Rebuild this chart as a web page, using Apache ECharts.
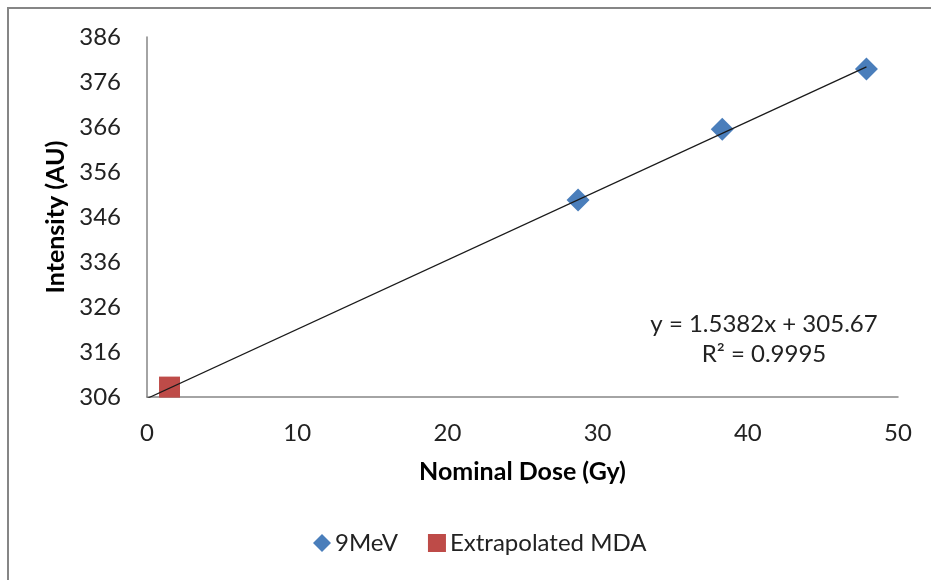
<!DOCTYPE html>
<html>
<head>
<meta charset="utf-8">
<script src="https://cdn.jsdelivr.net/npm/echarts@6/dist/echarts.min.js"></script>
<style>
  html, body { margin: 0; padding: 0; background: #fff; }
  #chart { width: 931px; height: 580px; }
</style>
</head>
<body>
<div id="chart"></div>
<script>
// Measured intensities at each nominal dose
const doseMeV = [28.7, 38.3, 47.9];
const intensityMeV = [349.8, 365.5, 378.9];
// Minimum detectable activity, extrapolated from the fit
const doseMDA = [1.5];
const intensityMDA = [308.2];
// Linear fit as reported by the equation label
const fitSlope = 1.5382;
const fitIntercept = 305.67;
const fitRange = [0, 47.9];
const fitText = ['y = 1.5382x + 305.67', 'R\u00b2 = 0.9995'];

const FONT = 'Lato, "Open Sans", sans-serif';

const chart = echarts.init(document.getElementById('chart'), null, { renderer: 'canvas' });

const fitLine = fitRange.map(x => [x, fitSlope * x + fitIntercept]);

chart.setOption({
  backgroundColor: '#fff',
  animation: false,
  textStyle: { fontFamily: FONT },
  grid: { left: 147, right: 33, top: 37, bottom: 183, containLabel: false },
  xAxis: {
    type: 'value',
    min: 0, max: 50, interval: 10,
    name: 'Nominal Dose (Gy)',
    nameLocation: 'middle',
    nameGap: 62,
    nameTextStyle: { fontFamily: FONT, fontSize: 25, fontWeight: 'bold', color: '#000' },
    axisLine: { show: true, lineStyle: { color: '#868686', width: 1.5 } },
    axisTick: { show: false },
    splitLine: { show: false },
    axisLabel: { fontFamily: FONT, fontSize: 24, color: '#222', margin: 24 }
  },
  yAxis: {
    type: 'value',
    min: 306, max: 386, interval: 10,
    name: 'Intensity (AU)',
    nameLocation: 'middle',
    nameGap: 70,
    nameTextStyle: { fontFamily: FONT, fontSize: 25, fontWeight: 'bold', color: '#000' },
    axisLine: { show: true, onZero: false, lineStyle: { color: '#868686', width: 1.5 } },
    axisTick: { show: false },
    splitLine: { show: false },
    axisLabel: { fontFamily: FONT, fontSize: 24, color: '#222', margin: 26 }
  },
  legend: {
    bottom: 20,
    left: 308,
    itemGap: 30,
    itemWidth: 18,
    itemHeight: 18,
    textStyle: { fontFamily: FONT, fontSize: 24, color: '#222', padding: [0, 0, 0, -1] },
    data: [
      { name: '9MeV', icon: 'diamond' },
      { name: 'Extrapolated MDA', icon: 'rect' }
    ]
  },
  graphic: [
    {
      type: 'polyline',
      shape: { points: [[8, 580], [8, 8], [931, 8]] },
      style: { stroke: '#868686', lineWidth: 2, fill: null },
      silent: true
    },
    {
      type: 'text',
      x: 764, y: 309,
      style: {
        text: fitText.join('\n'),
        fontFamily: FONT, fontSize: 24, fill: '#222',
        align: 'center', textAlign: 'center', lineHeight: 30
      }
    }
  ],
  series: [
    {
      name: 'Linear fit',
      type: 'line',
      data: fitLine,
      showSymbol: false,
      symbol: 'none',
      clip: true,
      lineStyle: { color: '#1a1a1a', width: 1.3 },
      z: 3
    },
    {
      name: '9MeV',
      type: 'scatter',
      symbol: 'diamond',
      symbolSize: 23,
      data: doseMeV.map((x, i) => [x, intensityMeV[i]]),
      itemStyle: { color: '#4A7EBB', opacity: 1 },
      z: 2
    },
    {
      name: 'Extrapolated MDA',
      type: 'scatter',
      symbol: 'rect',
      symbolSize: 21,
      data: doseMDA.map((x, i) => [x, intensityMDA[i]]),
      itemStyle: { color: '#BE4B48', opacity: 1 },
      z: 2
    }
  ]
});
</script>
</body>
</html>
